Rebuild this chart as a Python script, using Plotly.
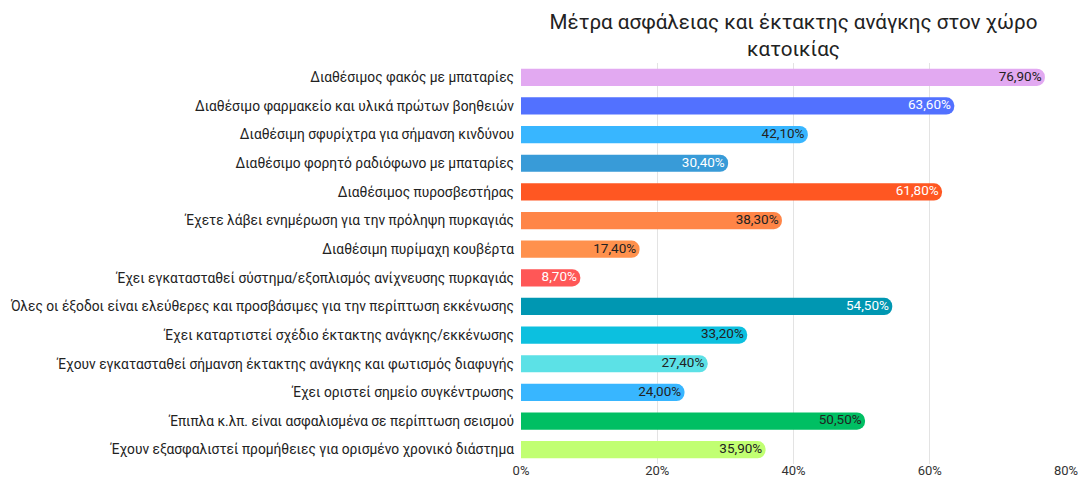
import plotly.graph_objects as go

categories = [
    "Διαθέσιμος φακός με μπαταρίες",
    "Διαθέσιμο φαρμακείο και υλικά πρώτων βοηθειών",
    "Διαθέσιμη σφυρίχτρα για σήμανση κινδύνου",
    "Διαθέσιμο φορητό ραδιόφωνο με μπαταρίες",
    "Διαθέσιμος πυροσβεστήρας",
    "Έχετε λάβει ενημέρωση για την πρόληψη πυρκαγιάς",
    "Διαθέσιμη πυρίμαχη κουβέρτα",
    "Έχει εγκατασταθεί σύστημα/εξοπλισμός ανίχνευσης πυρκαγιάς",
    "Όλες οι έξοδοι είναι ελεύθερες και προσβάσιμες για την περίπτωση εκκένωσης",
    "Έχει καταρτιστεί σχέδιο έκτακτης ανάγκης/εκκένωσης",
    "Έχουν εγκατασταθεί σήμανση έκτακτης ανάγκης και φωτισμός διαφυγής",
    "Έχει οριστεί σημείο συγκέντρωσης",
    "Έπιπλα κ.λπ. είναι ασφαλισμένα σε περίπτωση σεισμού",
    "Έχουν εξασφαλιστεί προμήθειες για ορισμένο χρονικό διάστημα",
]
values = [76.9, 63.6, 42.1, 30.4, 61.8, 38.3, 17.4, 8.7, 54.5, 33.2, 27.4, 24.0, 50.5, 35.9]
colors = ["#E2A9F1", "#5271FF", "#38B6FF", "#389BD8", "#FF5722", "#FF8547", "#FF914D",
          "#FF5757", "#0097B2", "#0CC0DF", "#5CE1E6", "#38B6FF", "#00BF63", "#C1FF72"]
text_colors = ["#222222", "#FFFFFF", "#222222", "#FFFFFF", "#FFFFFF", "#222222", "#222222",
               "#FFFFFF", "#FFFFFF", "#222222", "#222222", "#222222", "#222222", "#222222"]
x_ticks = [0, 20, 40, 60, 80]
x_tick_labels = ["0%", "20%", "40%", "60%", "80%"]

labels = [f"{v:.2f}%".replace(".", ",") + " " for v in values]

fig = go.Figure()
fig.add_trace(go.Bar(
    x=values,
    y=categories,
    orientation="h",
    marker=dict(color=colors, cornerradius=8, line=dict(width=0)),
    width=0.6,
    hoverinfo="skip",
))
fig.add_trace(go.Scatter(
    x=values,
    y=categories,
    mode="text",
    text=labels,
    textposition="middle left",
    textfont=dict(family="Roboto", size=13.5, color=text_colors),
    hoverinfo="skip",
))

fig.update_layout(
    width=1078,
    height=480,
    paper_bgcolor="white",
    plot_bgcolor="white",
    margin=dict(l=521, r=12, t=63, b=16, autoexpand=False),
    title=dict(
        text="Μέτρα ασφάλειας και έκτακτης ανάγκης στον χώρο<br>κατοικίας",
        x=0.5, xref="paper", xanchor="center",
        y=0.94, yref="container", yanchor="top",
        font=dict(family="Roboto", size=20.6, color="#222222"),
    ),
    font=dict(family="Roboto", size=13, color="#222222"),
    showlegend=False,
)
fig.update_xaxes(
    range=[0, 80],
    tickvals=x_ticks,
    ticktext=x_tick_labels,
    showgrid=True,
    gridcolor="#E3E3E3",
    gridwidth=1,
    zeroline=False,
    showline=False,
    tickfont=dict(family="Roboto", size=13, color="#333333"),
    ticks="",
    ticklabelstandoff=-3,
    ticklabeloverflow="allow",
    fixedrange=True,
)
fig.update_yaxes(
    range=[len(categories) - 0.5, -0.5],
    showgrid=False,
    ticks="",
    ticklabelstandoff=6,
    tickfont=dict(family="Roboto", size=13.75, color="#222222"),
    fixedrange=True,
)

fig.write_html(
    "out.html",
    config={"displayModeBar": False},
    post_script="document.body.style.margin='0';document.body.style.overflow='hidden';",
)
